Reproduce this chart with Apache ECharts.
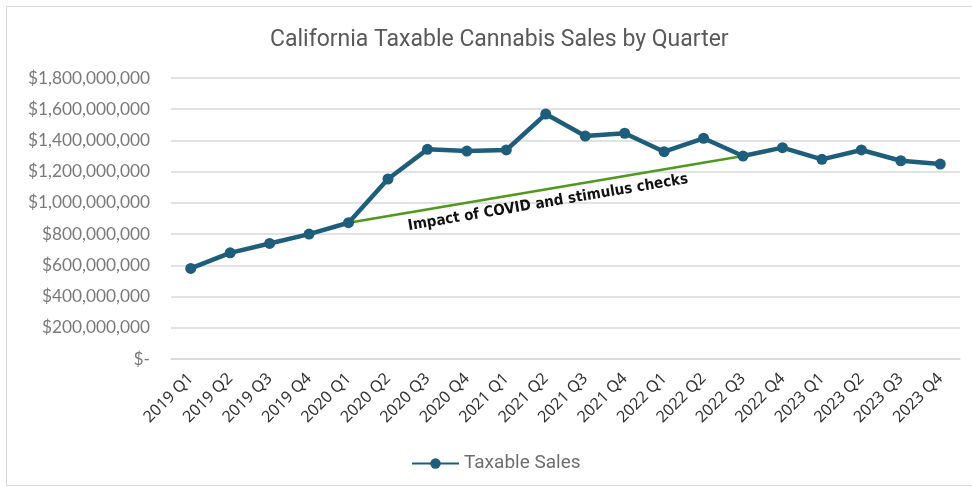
<!DOCTYPE html>
<html>
<head>
<meta charset="utf-8">
<script src="https://cdn.jsdelivr.net/npm/echarts@6/dist/echarts.min.js"></script>
<style>
  html, body { margin: 0; padding: 0; background: #ffffff; }
  #frame { position: absolute; left: 6px; top: 6px; width: 972px; height: 480px; border: 1px solid #d9d9d9; border-right: none; box-sizing: border-box; }
  #chart { position: absolute; left: 0; top: 0; width: 972px; height: 491px; }
</style>
</head>
<body>
<div id="frame"></div>
<div id="chart"></div>
<script>
// Quarterly taxable cannabis sales in California (USD)
const quarters = [
  '2019 Q1', '2019 Q2', '2019 Q3', '2019 Q4',
  '2020 Q1', '2020 Q2', '2020 Q3', '2020 Q4',
  '2021 Q1', '2021 Q2', '2021 Q3', '2021 Q4',
  '2022 Q1', '2022 Q2', '2022 Q3', '2022 Q4',
  '2023 Q1', '2023 Q2', '2023 Q3', '2023 Q4'
];
const taxableSales = [
  580e6, 680e6, 740e6, 800e6,
  873e6, 1153e6, 1343e6, 1332e6,
  1339e6, 1569e6, 1428e6, 1446e6,
  1328e6, 1414e6, 1300e6, 1354e6,
  1279e6, 1339e6, 1270e6, 1249e6
];
const yTicks = { min: 0, max: 1800e6, interval: 200e6 };

// Trend line spanning the COVID / stimulus period
const covidStart = 4;   // 2020 Q1
const covidEnd = 14;    // 2022 Q3
const covidNote = 'Impact of COVID and stimulus checks';

const chart = echarts.init(document.getElementById('chart'), null, { renderer: 'canvas' });

function money(v) {
  if (v === 0) return '$-';
  return '$' + Math.round(v).toLocaleString('en-US');
}

chart.setOption({
  animation: false,
  title: {
    text: 'California Taxable Cannabis Sales by Quarter',
    left: 265,
    top: 24,
    textStyle: { fontFamily: 'Roboto', fontSize: 23, fontWeight: 'normal', color: '#595959' }
  },
  grid: { left: 171, right: 12, top: 78, bottom: 132 },
  legend: {
    bottom: 13,
    left: 406,
    itemWidth: 47,
    itemHeight: 13,
    itemGap: 6,
    textStyle: { fontFamily: 'Roboto', fontSize: 19, color: '#6e6e6e' },
    data: ['Taxable Sales']
  },
  xAxis: {
    type: 'category',
    data: quarters,
    boundaryGap: true,
    axisLine: { lineStyle: { color: '#d9d9d9', width: 1.5 } },
    axisTick: { show: false },
    axisLabel: {
      rotate: 45,
      interval: 0,
      margin: 17,
      fontFamily: 'Noto Sans',
      fontSize: 16,
      color: '#333333'
    }
  },
  yAxis: {
    type: 'value',
    min: yTicks.min,
    max: yTicks.max,
    interval: yTicks.interval,
    axisLine: { show: false },
    axisTick: { show: false },
    splitLine: { lineStyle: { color: '#d9d9d9', width: 1.5 } },
    axisLabel: {
      margin: 21,
      fontFamily: 'Lato',
      fontSize: 17.3,
      color: '#7a7a7a',
      formatter: money
    }
  },
  series: [{
    name: 'Taxable Sales',
    type: 'line',
    data: taxableSales,
    symbol: 'circle',
    symbolSize: 11,
    lineStyle: { color: '#1e5e7c', width: 4.5 },
    itemStyle: { color: '#1e5e7c' },
    z: 3,
    markLine: {
      silent: true,
      symbol: ['none', 'none'],
      z: 2,
      lineStyle: { color: '#4f9a1e', width: 2.5, type: 'solid' },
      label: {
        show: true,
        position: 'insideMiddleBottom',
        distance: 6,
        formatter: covidNote,
        fontFamily: 'DejaVu Sans Condensed',
        fontWeight: 'bold',
        fontSize: 15,
        color: '#111111'
      },
      data: [[
        { coord: [quarters[covidStart], taxableSales[covidStart]] },
        { coord: [quarters[covidEnd], taxableSales[covidEnd]] }
      ]]
    }
  }]
});
</script>
</body>
</html>
